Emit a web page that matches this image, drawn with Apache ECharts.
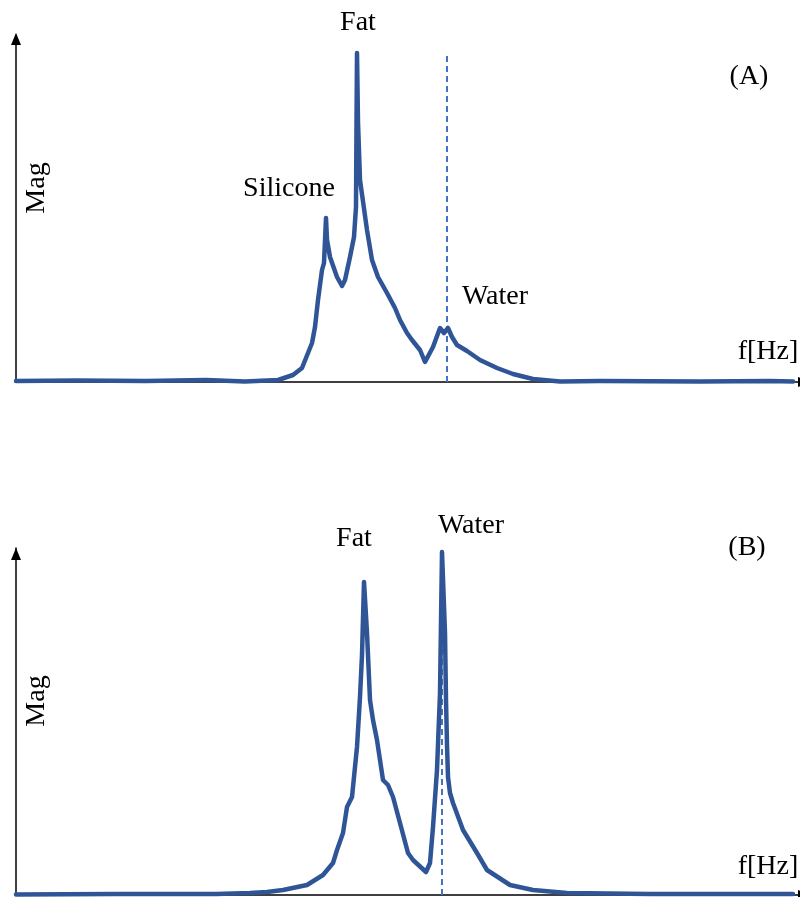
<!DOCTYPE html>
<html>
<head>
<meta charset="utf-8">
<script src="https://cdn.jsdelivr.net/npm/echarts@6/dist/echarts.min.js"></script>
<style>html,body{margin:0;padding:0;background:#fff}#c{width:800px;height:897px}</style>
</head>
<body>
<div id="c"></div>
<script>
// Panel A spectrum (frequency in arbitrary units, magnitude in arbitrary units)
const freqA = [0,60,130,190,229,262,277,286,292,296,299,302,306,308,310,311,314,321,326,329,334,338,340,340.5,341,342,344,351,356,362,371,379,384,391,396,404,409,417,424,428,432,436,441,451,464,481,497,517,544,584,684,754,777];
const magA  = [1,1.5,1,2,0.5,2,7,14,29,39,55,82,112,119,164,142,125,105,96,102,125,145,175,260,329,260,202,152,122,105,89,74,62,49,42,32,20,35,54,49,54,45,37,31,22,14,8,3,0.5,1,0.5,1,0.5];
// Panel B spectrum
const freqB = [0,100,200,234,251,267,291,307,317,321,327,331,336,341,344,346,348,351,354,357,361,367,372,377,384,392,397,410,414,417,421,424,426,429,430,431,432,434,437,447,461,471,494,517,551,634,777];
const magB  = [0.5,1,1,2,3,5,10,20,32,45,62,88,98,148,198,240,313,262,195,175,155,115,110,98,72,42,35,23,32,68,125,202,343,262,195,150,118,102,92,65,42,25,10,5,2,1,1];
// Water reference (dashed) lines
const waterLineA = {freq: 431, top: 329};
const waterLineB = {freq: 426, top: 300};
// Annotations
const labelsA = ['Fat','Silicone','Water','(A)','f[Hz]','Mag'];
const labelsB = ['Fat','Water','(B)','f[Hz]','Mag'];

const curveColor = '#2f5597';
const dashColor = '#4472c4';
const font = "'Liberation Serif','Times New Roman',serif";

function pairs(xs, ys){ return xs.map((x,i)=>[x, ys[i]]); }

const axisLineX = {show:true, lineStyle:{color:'#000', width:1.5}, symbol:['none','triangle'], symbolSize:[10,12], symbolOffset:[0,4]};
function xAx(idx){ return {type:'value', gridIndex:idx, min:0, max:784, axisLine:axisLineX, axisTick:{show:false}, axisLabel:{show:false}, splitLine:{show:false}}; }
function yAx(idx, off){ return {type:'value', gridIndex:idx, min:0, max:347, axisLine:{show:true, onZero:false, lineStyle:{color:'#000', width:1.5}, symbol:['none','triangle'], symbolSize:[10,12], symbolOffset:[0,off]}, axisTick:{show:false}, axisLabel:{show:false}, splitLine:{show:false}}; }

function txt(t, x, y, rot){
  return {type:'text', x:x, y:y, rotation: rot||0, style:{text:t, font:'28px '+font, fill:'#000', textAlign:'center', textVerticalAlign:'middle'}};
}

const curveStyle = {color:curveColor, width:4.5, join:'round', cap:'round'};

const option = {
  animation:false,
  backgroundColor:'#fff',
  grid:[
    {left:16, top:35, width:784, height:347},
    {left:16, top:548, width:784, height:347}
  ],
  xAxis:[xAx(0), xAx(1)],
  yAxis:[yAx(0,-4), yAx(1,-6)],
  series:[
    {type:'line', xAxisIndex:0, yAxisIndex:0, data:[[waterLineA.freq,0],[waterLineA.freq,waterLineA.top]], symbol:'none', lineStyle:{color:dashColor, width:2, type:[6,4]}, z:1},
    {type:'line', xAxisIndex:0, yAxisIndex:0, data:pairs(freqA, magA), symbol:'none', clip:false, lineStyle:curveStyle, z:2},
    {type:'line', xAxisIndex:1, yAxisIndex:1, data:[[waterLineB.freq,0],[waterLineB.freq,waterLineB.top]], symbol:'none', lineStyle:{color:dashColor, width:2, type:[6,4]}, z:1},
    {type:'line', xAxisIndex:1, yAxisIndex:1, data:pairs(freqB, magB), symbol:'none', clip:false, lineStyle:curveStyle, z:2}
  ],
  graphic:[
    txt(labelsA[0], 358, 23),
    txt(labelsA[1], 289, 189),
    txt(labelsA[2], 495, 297),
    txt(labelsA[3], 749, 77),
    txt(labelsA[4], 768, 352),
    txt(labelsA[5], 37, 188, Math.PI/2),
    txt(labelsB[0], 354, 539),
    txt(labelsB[1], 471, 526),
    txt(labelsB[2], 747, 548),
    txt(labelsB[3], 768, 867),
    txt(labelsB[4], 37, 701, Math.PI/2)
  ]
};
const chart = echarts.init(document.getElementById('c'), null, {renderer:'canvas'});
chart.setOption(option);
</script>
</body>
</html>
